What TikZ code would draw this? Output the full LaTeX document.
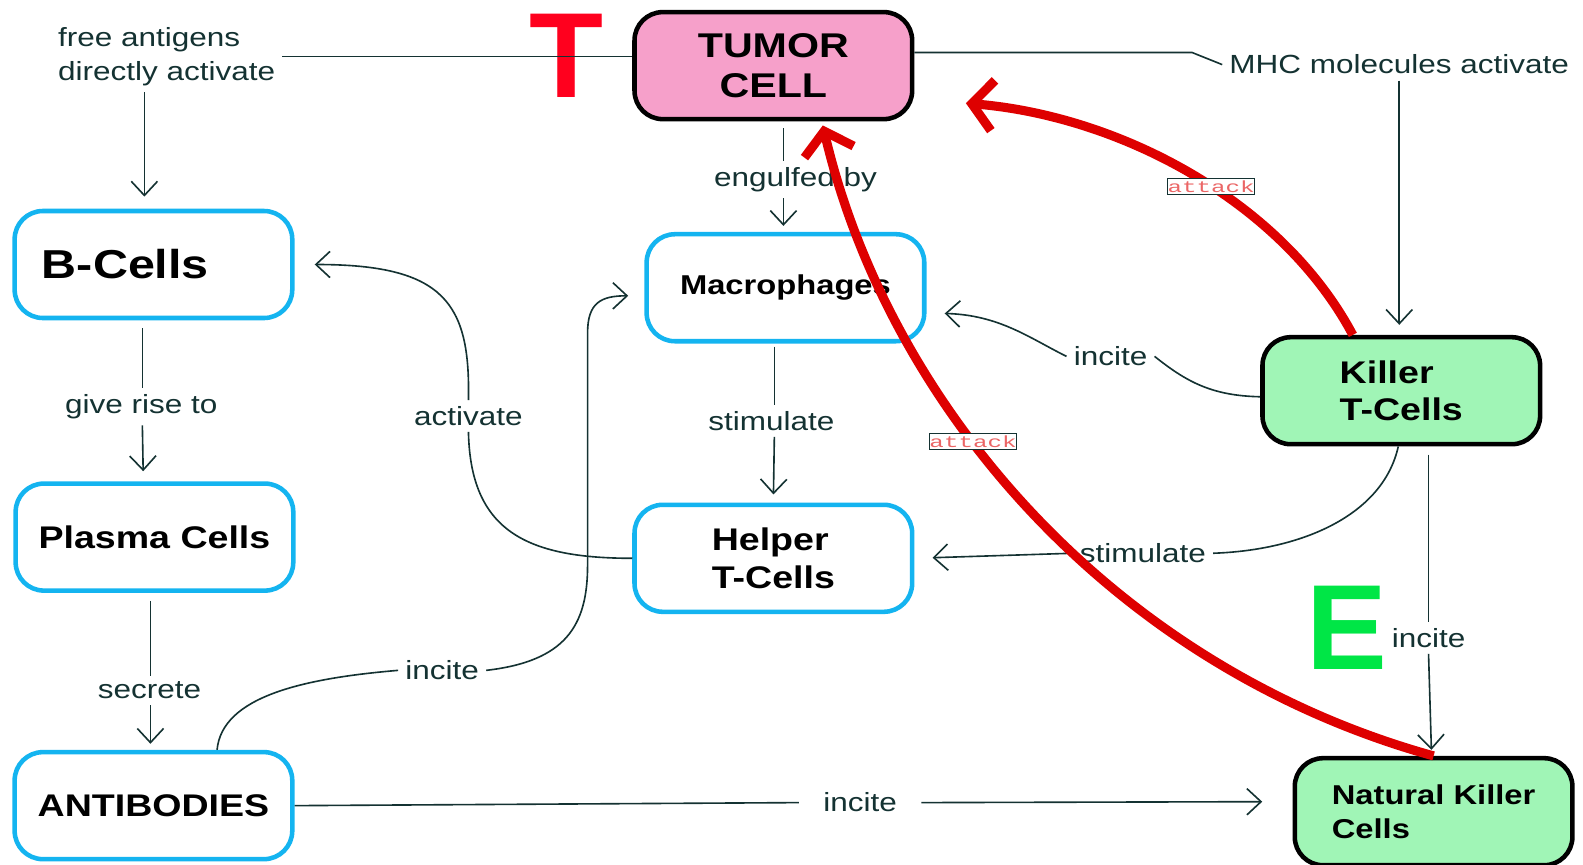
\documentclass[tikz,border=0pt]{standalone}
\usepackage{fontspec}
\setmainfont[FakeStretch=1.2]{Liberation Sans}
\newfontfamily\plainsans{Liberation Sans}
\newfontfamily\attackfont[FakeStretch=1.5]{Liberation Mono}
\usetikzlibrary{arrows.meta}

\definecolor{linkcol}{RGB}{20,50,50}
\definecolor{cellblue}{RGB}{20,180,240}
\definecolor{tumorpink}{RGB}{246,160,202}
\definecolor{killgreen}{RGB}{160,245,182}
\definecolor{attackred}{RGB}{222,0,0}
\definecolor{letterred}{RGB}{255,0,30}
\definecolor{lettergreen}{RGB}{0,230,70}

\tikzset{
  cellbox/.style={draw=cellblue,line width=4.5pt,rounded corners=28pt,fill=white,
    minimum width=275pt,minimum height=106pt,align=left,
    font=\bfseries\fontsize{31}{37}\selectfont},
  killbox/.style={cellbox,draw=black,fill=killgreen},
  lbl/.style={text=linkcol,inner xsep=7pt,inner ysep=6pt,font=\fontsize{26}{34}\selectfont},
  conn/.style={draw=linkcol,line width=1.6pt},
  arr/.style={-{Straight Barb[length=14pt,width=26pt]}},
  attackline/.style={draw=attackred,line width=9pt,
    -{Straight Barb[length=21pt,width=50pt]}},
  attacklbl/.style={draw=linkcol,line width=0.8pt,fill=white,text=attackred!60,
    inner xsep=0pt,inner ysep=2pt,font=\attackfont\fontsize{16}{16}\selectfont},
  bigletter/.style={inner sep=0pt,font=\plainsans\bfseries\fontsize{120}{120}\selectfont}
}

\begin{document}
\begin{tikzpicture}[x=1pt,y=-1pt]
\path[use as bounding box,fill=white] (0,0) rectangle (1568,856);

% big letters
\node[bigletter,text=letterred] (letT) at (561,55) {T};
\node[bigletter,text=lettergreen] (letE) at (1334,622) {E};

% cells
\node[cellbox,draw=black,fill=tumorpink,align=center,
  font=\bfseries\fontsize{34}{40}\selectfont] (tumor) at (766,65) {TUMOR\\CELL};
\node[cellbox,text width=221pt,inner xsep=27pt,
  font=\bfseries\fontsize{40}{46}\selectfont] (bcells) at (152,262) {B-Cells};
\node[cellbox] (plasma) at (153,532) {Plasma Cells};
\node[cellbox] (antib) at (152,798) {ANTIBODIES};
\node[cellbox,font=\bfseries\fontsize{27}{32}\selectfont] (macro) at (778,285) {Macrophages};
\node[cellbox] (helper) at (766,553) {Helper\\T-Cells};
\node[killbox] (killer) at (1388,387) {Killer\\T-Cells};
\node[killbox,font=\bfseries\fontsize{27}{33}\selectfont] (nk) at (1420,804) {Natural Killer\\Cells};

% link labels
\node[lbl,align=left] (lfree) at (165,56) {free antigens\\directly activate};
\node[lbl] (lmhc) at (1386,64) {MHC molecules activate};
\node[lbl] (lengulf) at (788,178) {engulfed by};
\node[lbl] (lgive) at (140,403) {give rise to};
\node[lbl] (lsecrete) at (148,684) {secrete};
\node[lbl] (lstima) at (764,417) {stimulate};
\node[lbl] (lactivate) at (464,412) {activate};
\node[lbl] (lincitea) at (438,664) {incite};
\node[lbl] (linciteb) at (1100,353) {incite};
\node[lbl] (lstimb) at (1132,548) {stimulate};
\node[lbl] (lincitec) at (1415,632) {incite};
\node[lbl,inner xsep=24pt] (lincited) at (852,795) {incite};

% links
\draw[conn] (lfree.east) -- (lfree.east -| tumor.west);
\draw[conn,arr,shorten >=12pt] ([xshift=-22pt]lfree.south) -- ([xshift=-9pt]bcells.north);
\draw[conn] ([yshift=13pt]tumor.east) -- ++(275,0) -- (lmhc.west);
\draw[conn,arr,shorten >=10pt] (lmhc.south) -- (lmhc.south |- killer.north);
\draw[conn,shorten <=7pt] ([xshift=10pt]tumor.south) -- ([xshift=10pt]tumor.south |- lengulf.north);
\draw[conn,arr,shorten >=6pt] ([xshift=-12pt]lengulf.south) -- ([xshift=-2pt]macro.north);
\draw[conn,shorten <=8pt] ([xshift=-11pt]bcells.south) -- ([xshift=1pt]lgive.north);
\draw[conn,arr,shorten >=10pt] ([xshift=1pt]lgive.south) -- ([xshift=-11pt]plasma.north);
\draw[conn,shorten <=8pt] ([xshift=-4pt]plasma.south) -- ([xshift=1pt]lsecrete.north);
\draw[conn,arr,shorten >=6pt] ([xshift=1pt]lsecrete.south) -- ([xshift=-3pt]antib.north);
\draw[conn,shorten <=3pt] ([xshift=-11pt]macro.south) -- ([xshift=3pt]lstima.north);
\draw[conn,arr,shorten >=8pt] ([xshift=3pt]lstima.south) -- (helper.north);
\draw[conn] (helper.west) .. controls (520,553) and (466,525) .. (lactivate.south);
\draw[conn,arr,shorten >=20pt] (lactivate.north) .. controls (466,300) and (440,262) .. (bcells.east);
\draw[conn] ([xshift=63pt]antib.north) .. controls (220,690) and (300,672) .. (lincitea.west);
\draw[conn,arr,shorten >=16pt] (lincitea.east) .. controls (560,655) and (582,620) .. (582,560)
  -- (582,330) .. controls (582,300) and (595,293) .. ([yshift=-8pt]macro.west);
\draw[conn] ([yshift=-6pt]killer.west) .. controls (1200,392) and (1175,378) .. (linciteb.east);
\draw[conn,arr,shorten >=18pt] (linciteb.west) .. controls (1020,335) and (990,312) .. ([yshift=-25pt]macro.east);
\draw[conn] ([xshift=-3pt]killer.south) .. controls (1370,510) and (1290,545) .. (lstimb.east);
\draw[conn,arr,shorten >=18pt] (lstimb.west) -- (helper.east);
\draw[conn,shorten <=8pt] ([xshift=27pt]killer.south) -- (lincitec.north);
\draw[conn,arr,shorten >=6pt] (lincitec.south) -- ([xshift=-2pt]nk.north);
\draw[conn] (antib.east) -- (lincited.west);
\draw[conn,arr,shorten >=30pt] (lincited.east) -- ([yshift=10pt]nk.west);

% attacks
\draw[attackline] (nk.north) .. controls (1100,660) and (880,400) .. ([xshift=49pt,yshift=-4pt]tumor.south)
  node[attacklbl,pos=0.6] {attack};
\draw[attackline] ([xshift=-48pt]killer.north) .. controls (1270,200) and (1110,115) .. ([xshift=51pt,yshift=18pt]tumor.south east)
  node[attacklbl,pos=0.45] {attack};
\end{tikzpicture}
\end{document}
